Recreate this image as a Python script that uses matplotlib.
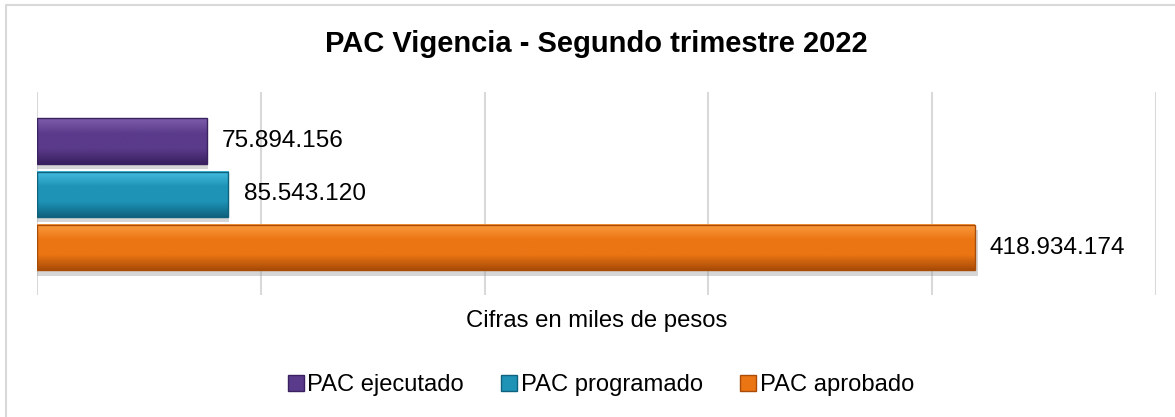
import matplotlib
matplotlib.use("Agg")
import matplotlib.pyplot as plt
import numpy as np
from matplotlib.colors import LinearSegmentedColormap
from matplotlib.lines import Line2D
from matplotlib.patches import Rectangle

series = ["PAC ejecutado", "PAC programado", "PAC aprobado"]
values = [75894156, 85543120, 418934174]
x_ticks = [0, 100e6, 200e6, 300e6, 400e6, 500e6]

# light top / body / dark bottom for the bevelled look
shades = [
    ("#7D5EAB", "#5A3A8A", "#3A2160"),
    ("#45BDE0", "#1E93B6", "#0E627E"),
    ("#FB9C40", "#EB7513", "#A94C08"),
]
GRID, INK = "#D9D9D9", "#000000"

plt.rcParams["font.family"] = ["Liberation Sans", "DejaVu Sans"]

W, H = 1175, 417
fig = plt.figure(figsize=(W / 100, H / 100), dpi=100)
fig.patch.set_facecolor("white")
ax = fig.add_axes([37 / W, 1 - 295 / H, (1156 - 37) / W, (295 - 92) / H])

# chart frame (only top/left edges fall inside the picture)
fig.patches.append(Rectangle((6 / W, -0.1), 1.2, 1.1 - 5 / H, transform=fig.transFigure,
                             fill=False, edgecolor=GRID, linewidth=1.5))

bar_h = 0.85
ypos = [2, 1, 0]
for y, v, (top, mid, bot) in zip(ypos, values, shades):
    # soft shadow
    ax.barh(y - 0.1, v * 1.004, height=bar_h, color="#9A9A9A", alpha=0.4,
            linewidth=0, zorder=1)
    cmap = LinearSegmentedColormap.from_list("b", [top, mid, mid, bot])
    grad = np.linspace(0, 1, 64).reshape(-1, 1)
    ax.imshow(grad, cmap=cmap, aspect="auto", zorder=2, interpolation="bilinear",
              extent=(0, v, y - bar_h / 2, y + bar_h / 2), origin="upper")
    ax.barh(y, v, height=bar_h, color="none", edgecolor=bot, linewidth=1.0, zorder=3)
    ax.annotate(f"{v:,}".replace(",", "."), (v, y), textcoords="offset points",
                xytext=(11, 0), va="center", ha="left", fontsize=17.6, color=INK)

ax.set_xlim(0, 500e6)
ax.set_ylim(-0.887, 2.915)
ax.set_xticks(x_ticks)
ax.set_yticks([])
ax.tick_params(axis="x", length=0, labelbottom=False)
ax.grid(axis="x", color=GRID, linewidth=1.5)
ax.set_axisbelow(True)
for side in ax.spines:
    ax.spines[side].set_visible(False)

ax.set_xlabel("Cifras en miles de pesos", fontsize=17.2, color=INK, va="center")
ax.xaxis.set_label_coords(0.5, (295 - 321) / 203)

fig.suptitle("PAC Vigencia - Segundo trimestre 2022", fontsize=21, fontweight="bold",
             color=INK, x=596 / W, y=1 - 44 / H, va="center")

handles = [Line2D([], [], marker="s", linestyle="none", markersize=11,
                  markerfacecolor=m, markeredgecolor=b) for _, m, b in shades]
fig.legend(handles, series, loc="center", bbox_to_anchor=(601 / W, 1 - 385 / H),
           ncol=3, frameon=False, fontsize=17.1, handlelength=0.7, handletextpad=0.15,
           columnspacing=1.55, borderpad=0)

fig.savefig("out.png", dpi=100)
